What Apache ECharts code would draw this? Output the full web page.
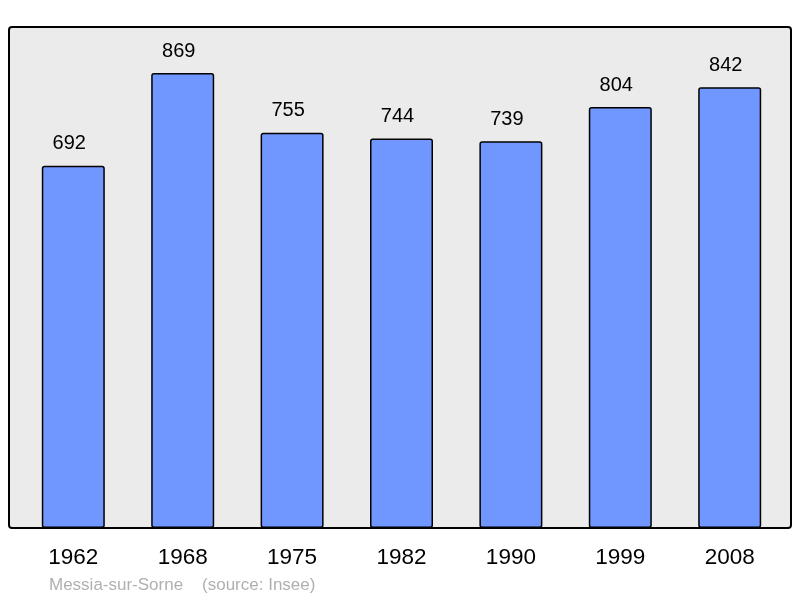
<!DOCTYPE html>
<html>
<head>
<meta charset="utf-8">
<script src="https://cdn.jsdelivr.net/npm/echarts@6/dist/echarts.min.js"></script>
<style>
  html, body { margin: 0; padding: 0; background: #fff; }
  #chart { width: 800px; height: 598px; }
</style>
</head>
<body>
<div id="chart"></div>
<script>
var years = ['1962', '1968', '1975', '1982', '1990', '1999', '2008'];
var population = [692, 869, 755, 744, 739, 804, 842];
var footerText = 'Messia-sur-Sorne    (source: Insee)';

var chart = echarts.init(document.getElementById('chart'));
chart.setOption({
    animation: false,
    textStyle: {fontFamily: 'Liberation Sans, Arial, sans-serif'},
    graphic: [
        {
            type: 'rect',
            z: -10,
            shape: {x: 9, y: 27, width: 782, height: 501, r: 3},
            style: {fill: '#ebebeb', stroke: '#000', lineWidth: 2}
        },
        {
            type: 'text',
            left: 49,
            top: 577,
            style: {text: footerText, fill: '#b0b0b0', fontSize: 17, fontFamily: 'Liberation Sans, Arial, sans-serif'}
        }
    ],
    grid: {left: 18.6, right: 15.6, top: 27, bottom: 70},
    xAxis: {
        type: 'category',
        data: years,
        axisLine: {show: false},
        axisTick: {show: false},
        axisLabel: {color: '#000', fontSize: 22.5, margin: 18}
    },
    yAxis: {
        type: 'value',
        min: 0,
        max: 957,
        show: false,
        splitLine: {show: false}
    },
    series: [{
        type: 'bar',
        data: population,
        barWidth: 63,
        itemStyle: {color: '#7097ff', borderColor: '#000', borderWidth: 1.5, borderRadius: 2},
        label: {show: true, position: 'top', distance: 12, offset: [-4, 0], color: '#000', fontSize: 20}
    }]
});
</script>
</body>
</html>
